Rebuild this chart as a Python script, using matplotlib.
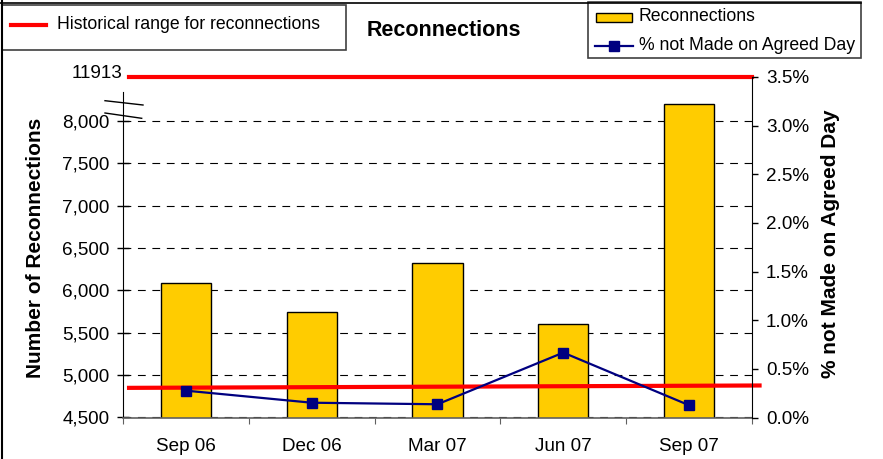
import matplotlib
matplotlib.use('Agg')
import matplotlib.pyplot as plt
from matplotlib.patches import Rectangle
from matplotlib.lines import Line2D
from matplotlib.ticker import FuncFormatter, PercentFormatter

plt.rcParams['font.family'] = ['Liberation Sans', 'DejaVu Sans']

# data
quarters = ["Sep 06", "Dec 06", "Mar 07", "Jun 07", "Sep 07"]
reconnections = [6090, 5745, 6320, 5605, 8200]
pct_not_agreed = [0.276, 0.152, 0.136, 0.667, 0.126]
hist_max = 11913
hist_low = [4850, 4878]  # lower red line, left end / right end

W, H = 883, 459
YELLOW = '#FFCC00'
NAVY = '#000080'
RED = '#FF0000'

# plot area in pixels
AX_L, AX_R, AX_T, AX_B = 123, 752, 77, 417.5


def fx(px):
  return px / W


def fy(py):
  return 1 - py / H


fig = plt.figure(figsize=(W / 100, H / 100), dpi=100)
ax = fig.add_axes([fx(AX_L), fy(AX_B), fx(AX_R) - fx(AX_L), fy(AX_T) - fy(AX_B)])
ax2 = ax.twinx()

x = list(range(len(quarters)))

# bars (left axis)
ax.bar(x, reconnections, width=0.4, color=YELLOW, edgecolor='black', linewidth=1, zorder=2)
ax.set_xlim(-0.5, len(quarters) - 0.5)
ax.set_ylim(4500, 8520)
ax.set_yticks(range(4500, 8001, 500))
ax.yaxis.set_major_formatter(FuncFormatter(lambda v, p: f'{int(v):,}'))
ax.yaxis.grid(True, color='black', linestyle=(0, (7, 6)), linewidth=0.8)
ax.set_axisbelow(True)
ax.tick_params(axis='y', direction='inout', length=9, width=1, labelsize=13.6, pad=5)

# categories between tick marks
ax.set_xticks([i - 0.5 for i in range(len(quarters) + 1)])
ax.set_xticklabels([])
ax.set_xticks(x, minor=True)
ax.set_xticklabels(quarters, minor=True)
ax.tick_params(axis='x', which='major', direction='out', length=4.5, color='#606060')
ax.tick_params(axis='x', which='minor', length=0, labelsize=13.6, pad=15)

ax.spines['top'].set_visible(False)
ax.spines['right'].set_visible(False)
ax.spines['bottom'].set_color('#606060')
ax.spines['bottom'].set_linewidth(1.2)
ax.spines['left'].set_bounds(4500, 8340)
ax.set_ylabel('Number of Reconnections', fontsize=15, fontweight='bold')
ax.yaxis.set_label_coords(-(AX_L - 45) / (AX_R - AX_L), (AX_B - 247.5) / (AX_B - AX_T))

# line (right axis)
ax2.plot(x, pct_not_agreed, color=NAVY, linewidth=1.6, marker='s', markersize=7,
         markeredgecolor=NAVY, zorder=3)
ax2.set_ylim(0, 3.5)
ax2.set_yticks([i * 0.5 for i in range(8)])
ax2.yaxis.set_major_formatter(PercentFormatter(decimals=1))
ax2.tick_params(axis='y', direction='out', length=4, width=1, labelsize=13.6, pad=6)
for side in ['top', 'left', 'bottom']:
  ax2.spines[side].set_visible(False)
ax2.set_ylabel('% not Made on Agreed Day', fontsize=15, fontweight='bold', rotation=90)
ax2.yaxis.set_label_coords(1 + (821 - AX_R) / (AX_R - AX_L), (AX_B - 243.5) / (AX_B - AX_T))

# historical range lines
ax.plot([-0.45, len(quarters) - 0.5], [8520, 8520], color=RED, linewidth=3, clip_on=False, zorder=5)
ax.plot([-0.452, 4.56], hist_low, color=RED, linewidth=3, clip_on=False, zorder=5)
fig.text(fx(123), fy(73.5), str(hist_max), ha='right', va='center', fontsize=13.6)

# axis break marks
for (x0, y0, x1, y1) in [(105, 100.7, 143, 105), (105, 113, 141.7, 118.3)]:
  fig.add_artist(Line2D([fx(x0), fx(x1)], [fy(y0), fy(y1)], color='black', linewidth=1))

# title
fig.text(fx(444), fy(31), 'Reconnections', ha='center', va='center', fontsize=15.5, fontweight='bold')

# left legend box
fig.add_artist(Rectangle((fx(2), fy(50)), fx(346) - fx(2), fy(5) - fy(50),
                         facecolor='white', edgecolor='#404040', linewidth=1.2))
fig.add_artist(Line2D([fx(11), fx(46)], [fy(24.5), fy(24.5)], color=RED, linewidth=3))
fig.text(fx(57), fy(24.5), 'Historical range for reconnections', ha='left', va='center', fontsize=12.7)

# right legend box
fig.add_artist(Rectangle((fx(588), fy(58)), fx(861) - fx(588), fy(2) - fy(58),
                         facecolor='white', edgecolor='#404040', linewidth=1.2))
fig.add_artist(Rectangle((fx(596), fy(22)), fx(632) - fx(596), fy(13) - fy(22),
                         facecolor=YELLOW, edgecolor='black', linewidth=1))
fig.text(fx(639), fy(16.5), 'Reconnections', ha='left', va='center', fontsize=12.7)
fig.add_artist(Line2D([fx(595), fx(633)], [fy(46), fy(46)], color=NAVY, linewidth=1.6))
fig.add_artist(Line2D([fx(614)], [fy(46)], color=NAVY, marker='s', markersize=7))
fig.text(fx(639), fy(46), '% not Made on Agreed Day', ha='left', va='center', fontsize=12.7)

# chart border (top and left)
fig.add_artist(Line2D([0, fx(861)], [fy(2.5), fy(2.5)], color='black', linewidth=1.2))
fig.add_artist(Line2D([fx(1.5), fx(1.5)], [0, 1], color='black', linewidth=1.5))

fig.savefig('out.png', dpi=100)
